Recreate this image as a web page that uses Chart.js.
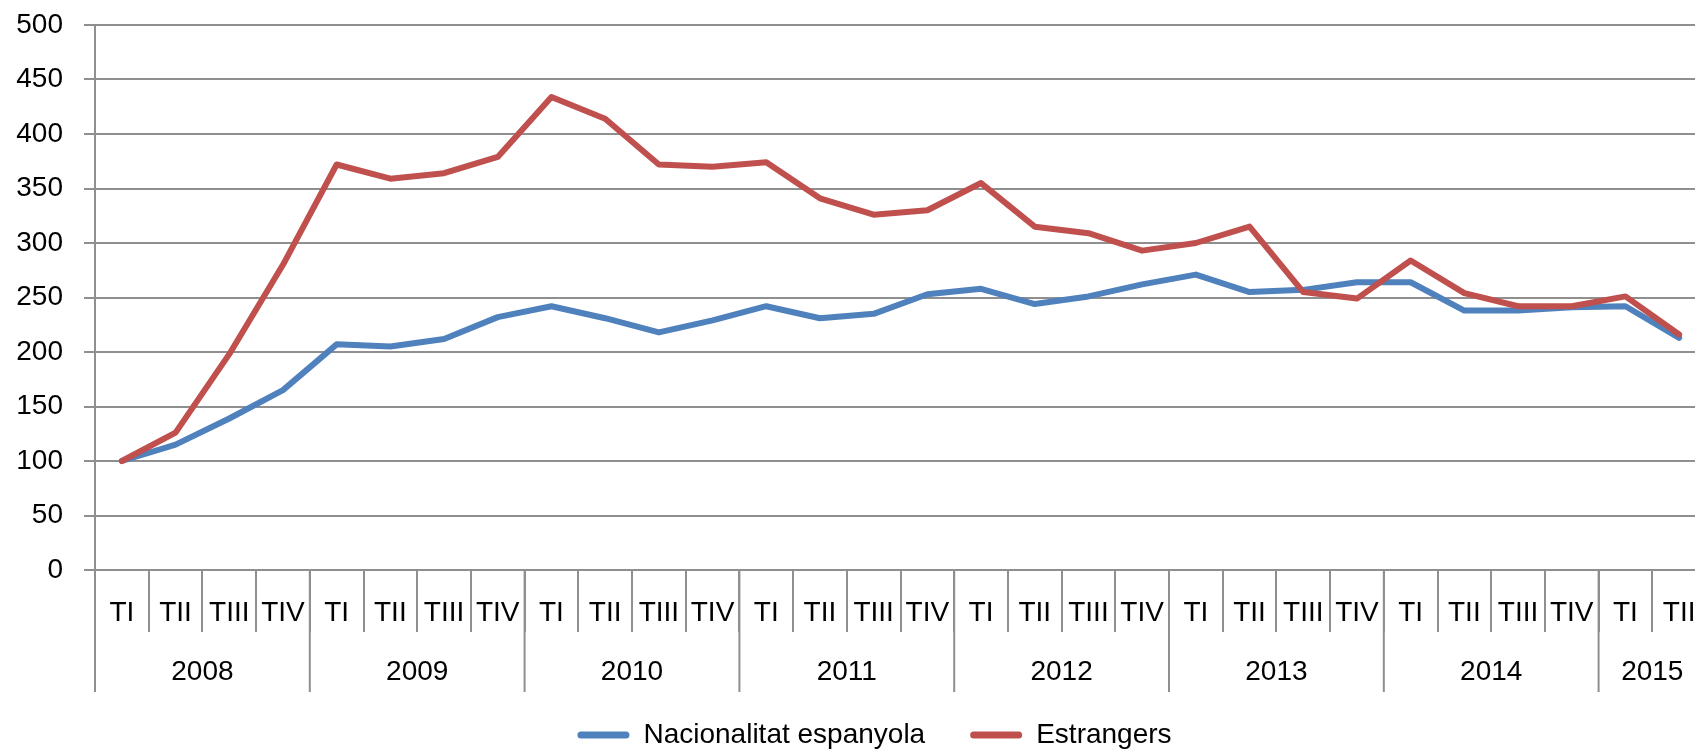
<!DOCTYPE html>
<html>
<head>
<meta charset="utf-8">
<script src="https://cdn.jsdelivr.net/npm/chart.js@4"></script>
<style>
    html, body { margin: 0; padding: 0; background: #fff; overflow: hidden; }
    #wrap { width: 1706px; height: 759px; }
</style>
</head>
<body>
<div id="wrap"><canvas id="chart" width="1706" height="759"></canvas></div>
<script>
// quarter labels, one per point
const quarters = [
    'TI', 'TII', 'TIII', 'TIV', 'TI', 'TII', 'TIII', 'TIV',
    'TI', 'TII', 'TIII', 'TIV', 'TI', 'TII', 'TIII', 'TIV',
    'TI', 'TII', 'TIII', 'TIV', 'TI', 'TII', 'TIII', 'TIV',
    'TI', 'TII', 'TIII', 'TIV', 'TI', 'TII'
];
const years = ['2008', '2009', '2010', '2011', '2012', '2013', '2014', '2015'];
const quartersPerYear = [4, 4, 4, 4, 4, 4, 4, 2];

const spanish = [
    100, 115, 139, 165, 207, 205, 212, 232,
    242, 231, 218, 229, 242, 231, 235, 253,
    258, 244, 251, 262, 271, 255, 257, 264,
    264, 238, 238, 241, 242, 213
];
const foreign = [
    100, 126, 198, 280, 372, 359, 364, 379,
    434, 414, 372, 370, 374, 341, 326, 330,
    355, 315, 309, 293, 300, 315, 255, 249,
    284, 254, 242, 242, 251, 216
];

const yMin = 0, yMax = 500, yStep = 50;

const FONT = '"Liberation Sans", Arial, sans-serif';
const gridColor = '#8f8f8f';

// second level of the category axis: year names and long separators
const yearAxis = {
    id: 'yearAxis',
    beforeDraw(chart) {
        // y labels sit left of the padded area; don't clip them
        chart.scales.y._computeLabelArea = () => null;
    },
    afterDraw(chart) {
        const x = chart.scales.x;
        const ctx = chart.ctx;
        const w = x.getPixelForValue(1) - x.getPixelForValue(0);
        ctx.save();
        ctx.strokeStyle = gridColor;
        ctx.lineWidth = 2;
        ctx.fillStyle = '#000';
        ctx.font = '28px ' + FONT;
        ctx.textAlign = 'center';
        ctx.textBaseline = 'middle';
        let start = 0;
        years.forEach((yr, i) => {
            const n = quartersPerYear[i];
            const edge = x.getPixelForValue(start) - w / 2;
            ctx.beginPath();
            ctx.moveTo(edge, x.top);
            ctx.lineTo(edge, x.top + 122);
            ctx.stroke();
            const mid = (x.getPixelForValue(start) + x.getPixelForValue(start + n - 1)) / 2;
            ctx.fillText(yr, mid, x.top + 102);
            start += n;
        });
        ctx.restore();
    }
};

const ctx = document.getElementById('chart').getContext('2d');
new Chart(ctx, {
    type: 'line',
    data: {
        labels: quarters,
        datasets: [
            {
                label: 'Nacionalitat espanyola',
                data: spanish,
                borderColor: '#4F81BD',
                backgroundColor: '#4F81BD',
                borderWidth: 6,
                pointRadius: 0,
                borderCapStyle: 'round',
                borderJoinStyle: 'round',
                tension: 0,
                order: 1
            },
            {
                label: 'Estrangers',
                data: foreign,
                borderColor: '#C0504D',
                backgroundColor: '#C0504D',
                borderWidth: 6,
                pointRadius: 0,
                borderCapStyle: 'round',
                borderJoinStyle: 'round',
                tension: 0,
                order: 0
            }
        ]
    },
    options: {
        responsive: false,
        animation: false,
        // canvas is wider than the window: the last category is cut off like the original
        layout: { padding: { left: 43, right: 0, top: 25, bottom: 0 } },
        plugins: {
            tooltip: { enabled: false },
            legend: {
                position: 'bottom',
                labels: {
                    font: { family: FONT, size: 28 },
                    color: '#000',
                    boxWidth: 52,
                    boxHeight: 7,
                    padding: 45,
                    useBorderRadius: true,
                    borderRadius: 3.5,
                    sort: (a, b) => a.datasetIndex - b.datasetIndex,
                    generateLabels: chart => Chart.defaults.plugins.legend.labels.generateLabels(chart)
                        .map(l => ({ ...l, lineWidth: 0 }))
                }
            }
        },
        scales: {
            x: {
                offset: true,
                grid: {
                    offset: true,
                    drawOnChartArea: false,
                    drawTicks: true,
                    tickLength: 62,
                    color: gridColor,
                    lineWidth: 2
                },
                border: { color: gridColor, width: 2 },
                ticks: {
                    font: { family: FONT, size: 28 },
                    color: '#000',
                    padding: -36,
                    maxRotation: 0,
                    autoSkip: false
                },
                afterFit: scale => { scale.height = 106; }
            },
            y: {
                min: yMin,
                max: yMax,
                grid: { color: gridColor, lineWidth: 2, tickLength: 11 },
                border: { color: gridColor, width: 2 },
                ticks: {
                    stepSize: yStep,
                    font: { family: FONT, size: 28 },
                    color: '#000',
                    padding: 21
                },
                afterFit: scale => { scale.width = 52; scale.paddingTop = 0; }
            }
        }
    },
    plugins: [yearAxis]
});
</script>
</body>
</html>
